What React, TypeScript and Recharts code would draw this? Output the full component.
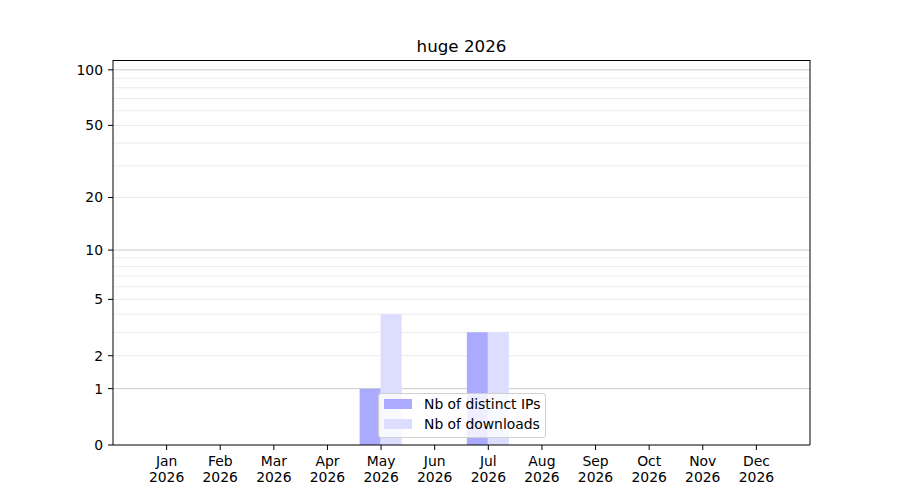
import React from 'react';
import { BarChart, Bar, XAxis, YAxis, CartesianGrid, Legend } from 'recharts';

const MONTHS = ['Jan', 'Feb', 'Mar', 'Apr', 'May', 'Jun', 'Jul', 'Aug', 'Sep', 'Oct', 'Nov', 'Dec'];
const YEAR = '2026';
const DISTINCT_IPS = [0, 0, 0, 0, 1, 0, 3, 0, 0, 0, 0, 0];
const DOWNLOADS = [0, 0, 0, 0, 4, 0, 3, 0, 0, 0, 0, 0];
const Y_TICKS = [0, 1, 2, 5, 10, 20, 50, 100];
const MAJOR_GRID = [1, 10, 100];
const MINOR_GRID = [2, 3, 4, 5, 6, 7, 8, 9, 20, 30, 40, 50, 60, 70, 80, 90];
const Y_MAX = 113;
const TITLE = 'huge 2026';
const SERIES = [
  { key: 'ips', name: 'Nb of distinct IPs', color: '#aaaaff' },
  { key: 'dl', name: 'Nb of downloads', color: '#ddddff' },
];

// log10(1 + v) scale, as in the reference
const t = (v: number) => Math.log10(1 + v);

const data = MONTHS.map((m, i) => ({
  month: m,
  ips: t(DISTINCT_IPS[i]),
  dl: t(DOWNLOADS[i]),
}));

const FONT = '"DejaVu Sans", sans-serif';

const yLabel = (v: number) => {
  let best = Y_TICKS[0];
  for (const tk of Y_TICKS) if (Math.abs(t(tk) - v) < Math.abs(t(best) - v)) best = tk;
  return String(best);
};

const XTick = (props: any) => {
  const { x, y, payload } = props;
  return (
    <text x={x} y={y} textAnchor="middle" fill="#000" fontSize={13.9} fontFamily={FONT}>
      <tspan x={x} dy="0.71em">{payload.value}</tspan>
      <tspan x={x} dy="16">{YEAR}</tspan>
    </text>
  );
};

const gridGen = (values: number[]) => (args: any) => {
  const { yAxis, offset } = args;
  if (yAxis && typeof yAxis.scale === 'function') {
    return values.map((v) => yAxis.scale(t(v)));
  }
  return values.map((v) => offset.top + offset.height * (1 - t(v) / t(Y_MAX)));
};

const frameTop = (args: any) => [args.offset.top + 0.5];
const frameRight = (args: any) => [args.offset.left + args.offset.width];

const LegendBox = () => (
  <div
    style={{
      display: 'inline-block',
      border: '1px solid #d0d0d0',
      borderRadius: 3,
      background: 'rgba(255,255,255,0.8)',
      padding: '0 5px 3px 5px',
      fontFamily: FONT,
      fontSize: 13.9,
      color: '#000',
      boxSizing: 'border-box',
      whiteSpace: 'nowrap',
    }}
  >
    {SERIES.map((s) => (
      <div key={s.key} style={{ height: 20, display: 'flex', alignItems: 'center' }}>
        <span style={{ display: 'inline-block', width: 28, height: 10, background: s.color }} />
        <span style={{ marginLeft: 12 }}>{s.name}</span>
      </div>
    ))}
  </div>
);

export default function App() {
  return (
    <div style={{ position: 'absolute', left: 0, top: 0, width: 900, height: 500, background: '#fff' }}>
      <svg width={900} height={60} style={{ position: 'absolute', left: 0, top: 0 }}>
        <text x={461.5} y={52} textAnchor="middle" fontFamily={FONT} fontSize={16.7} fill="#000">
          {TITLE}
        </text>
      </svg>
      <div style={{ position: 'absolute', left: 0, top: 0 }}>
        <BarChart
          width={900}
          height={500}
          data={data}
          margin={{ top: 60, right: 90, left: 53, bottom: 0 }}
          barCategoryGap="10%"
          barGap={0}
        >
          <CartesianGrid
            vertical={false}
            stroke="#ebebeb"
            horizontalCoordinatesGenerator={gridGen(MINOR_GRID)}
            syncWithTicks={false}
          />
          <CartesianGrid
            vertical={false}
            stroke="#cbcbcb"
            horizontalCoordinatesGenerator={gridGen(MAJOR_GRID)}
            syncWithTicks={false}
          />
          <CartesianGrid
            stroke="#000"
            strokeOpacity={1}
            horizontalCoordinatesGenerator={frameTop}
            verticalCoordinatesGenerator={frameRight}
            syncWithTicks={false}
          />
          <XAxis
            dataKey="month"
            height={55}
            padding={{ left: 26.8, right: 26.8 }}
            axisLine={{ stroke: '#000' }}
            tickLine={{ stroke: '#000' }}
            tickSize={5}
            tickMargin={6}
            interval={0}
            tick={<XTick />}
          />
          <YAxis
            type="number"
            width={60}
            domain={[0, t(Y_MAX)]}
            allowDataOverflow
            ticks={Y_TICKS.map(t)}
            interval={0}
            tickFormatter={yLabel}
            axisLine={{ stroke: '#000' }}
            tickLine={{ stroke: '#000' }}
            tickSize={5}
            tickMargin={5}
            tick={{ fill: '#000', fontSize: 13.9, fontFamily: FONT }}
          />
          <Legend
            layout="horizontal"
            verticalAlign="middle"
            align="center"
            content={<LegendBox />}
            wrapperStyle={{ left: 378, top: 393, width: 'auto', height: 'auto' }}
          />
          {SERIES.map((s) => (
            <Bar key={s.key} dataKey={s.key} name={s.name} fill={s.color} isAnimationActive={false} />
          ))}
        </BarChart>
      </div>
    </div>
  );
}
